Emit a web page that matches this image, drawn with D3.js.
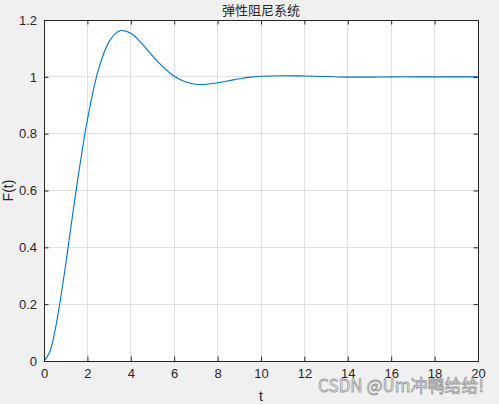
<!DOCTYPE html>
<html>
<head>
<meta charset="utf-8">
<script src="https://cdn.jsdelivr.net/npm/d3@7"></script>
<style>
  body { margin: 0; background: #f0f0f0; }
  svg { display: block; }
  .tick-label { font-family: Arial, "Liberation Sans", sans-serif; font-size: 13px; fill: #262626; }
</style>
</head>
<body>
<div id="chart"></div>
<script>
// time samples (s) and response F(t)
var tValues = [0, 0.25, 0.5, 0.75, 1, 1.5, 2, 2.5, 3, 3.5, 4, 4.5, 5, 5.5, 6, 6.5, 7, 7.5, 8, 8.5, 9, 9.5, 10, 11, 12, 13, 14, 15, 16, 17, 18, 19, 20];
var fValues = [0, 0.029, 0.104, 0.213, 0.340, 0.611, 0.849, 1.023, 1.124, 1.162, 1.153, 1.118, 1.074, 1.034, 1.002, 0.983, 0.974, 0.974, 0.979, 0.986, 0.993, 0.999, 1.002, 1.004, 1.003, 1.001, 0.999, 0.999, 1.0, 1.0, 1.0, 1.0, 1.0];
var xTicks = [0, 2, 4, 6, 8, 10, 12, 14, 16, 18, 20];
var yTicks = [0, 0.2, 0.4, 0.6, 0.8, 1, 1.2];

var props = {
  width : 499,
  height : 404,
  marginTop : 20,
  marginRight : 21,
  marginBottom : 43,
  marginLeft : 44
};

var svg = d3.select("#chart").append("svg")
  .attr("width", props.width)
  .attr("height", props.height);

var scales = {
  x : d3.scaleLinear().domain([0, 20]).range([props.marginLeft, props.width - props.marginRight]),
  y : d3.scaleLinear().domain([0, 1.2]).range([props.height - props.marginBottom, props.marginTop])
};

var x0 = scales.x(0), x1 = scales.x(20), y0 = scales.y(0), y1 = scales.y(1.2);

svg.append("rect")
  .attr("x", x0).attr("y", y1)
  .attr("width", x1 - x0).attr("height", y0 - y1)
  .style("fill", "#ffffff");

// grid
svg.append("g").selectAll("line").data(xTicks.slice(1, -1)).enter().append("line")
  .attr("x1", function(d){ return scales.x(d); })
  .attr("x2", function(d){ return scales.x(d); })
  .attr("y1", y1).attr("y2", y0)
  .style("stroke", "#dfdfdf").style("stroke-width", 1).attr("shape-rendering", "crispEdges");
svg.append("g").selectAll("line").data(yTicks.slice(1, -1)).enter().append("line")
  .attr("y1", function(d){ return scales.y(d); })
  .attr("y2", function(d){ return scales.y(d); })
  .attr("x1", x0).attr("x2", x1)
  .style("stroke", "#dfdfdf").style("stroke-width", 1).attr("shape-rendering", "crispEdges");

// response curve
var line = d3.line()
  .curve(d3.curveCatmullRom)
  .x(function(d, i){ return scales.x(tValues[i]); })
  .y(function(d){ return scales.y(d); });

svg.append("path")
  .attr("d", line(fValues))
  .style("fill", "none")
  .style("stroke", "#0072bd")
  .style("stroke-width", 1.1);

// axes, ticks inward on all four sides
var tickLen = 4.5;
svg.append("g")
  .attr("transform", "translate(0," + y0 + ")")
  .call(d3.axisBottom(scales.x).tickValues(xTicks).tickSize(-tickLen).tickPadding(8).tickFormat(d3.format("d")));
svg.append("g")
  .attr("transform", "translate(0," + y1 + ")")
  .call(d3.axisTop(scales.x).tickValues(xTicks).tickSize(-tickLen).tickFormat(""));
svg.append("g")
  .attr("transform", "translate(" + x0 + ",0)")
  .call(d3.axisLeft(scales.y).tickValues(yTicks).tickSize(-tickLen).tickPadding(7).tickFormat(function(d){ return d3.format("~g")(d); }));
svg.append("g")
  .attr("transform", "translate(" + x1 + ",0)")
  .call(d3.axisRight(scales.y).tickValues(yTicks).tickSize(-tickLen).tickFormat(""));

svg.selectAll(".domain").style("stroke", "#262626").style("stroke-width", 1);
svg.selectAll(".tick line").style("stroke", "#262626");
svg.selectAll(".tick text").attr("class", "tick-label").style("font-size", "13px").style("fill", "#262626")
  .style("font-family", "Arial, 'Liberation Sans', sans-serif");

// labels
svg.append("text")
  .attr("x", (x0 + x1) / 2).attr("y", 15)
  .attr("text-anchor", "middle")
  .style("font-family", "'Noto Sans CJK SC', sans-serif")
  .style("font-size", "13px")
  .style("fill", "#262626")
  .text("弹性阻尼系统");

svg.append("text")
  .attr("x", (x0 + x1) / 2).attr("y", 401)
  .attr("text-anchor", "middle")
  .style("font-family", "Arial, 'Liberation Sans', sans-serif")
  .style("font-size", "14px")
  .style("fill", "#262626")
  .text("t");

svg.append("text")
  .attr("transform", "translate(13," + ((y0 + y1) / 2) + ") rotate(-90)")
  .attr("text-anchor", "middle")
  .style("font-family", "Arial, 'Liberation Sans', sans-serif")
  .style("font-size", "14px")
  .style("fill", "#262626")
  .text("F(t)");

// watermark
svg.append("text")
  .attr("x", 484).attr("y", 392)
  .attr("text-anchor", "end")
  .style("font-family", "'Noto Sans CJK SC', sans-serif")
  .style("font-size", "17px")
  .style("fill", "#ffffff")
  .style("stroke", "#8a8a8a")
  .style("stroke-width", 0.8)
  .style("opacity", 0.85)
  .text("CSDN @Um冲鸭给给!");
</script>
</body>
</html>
